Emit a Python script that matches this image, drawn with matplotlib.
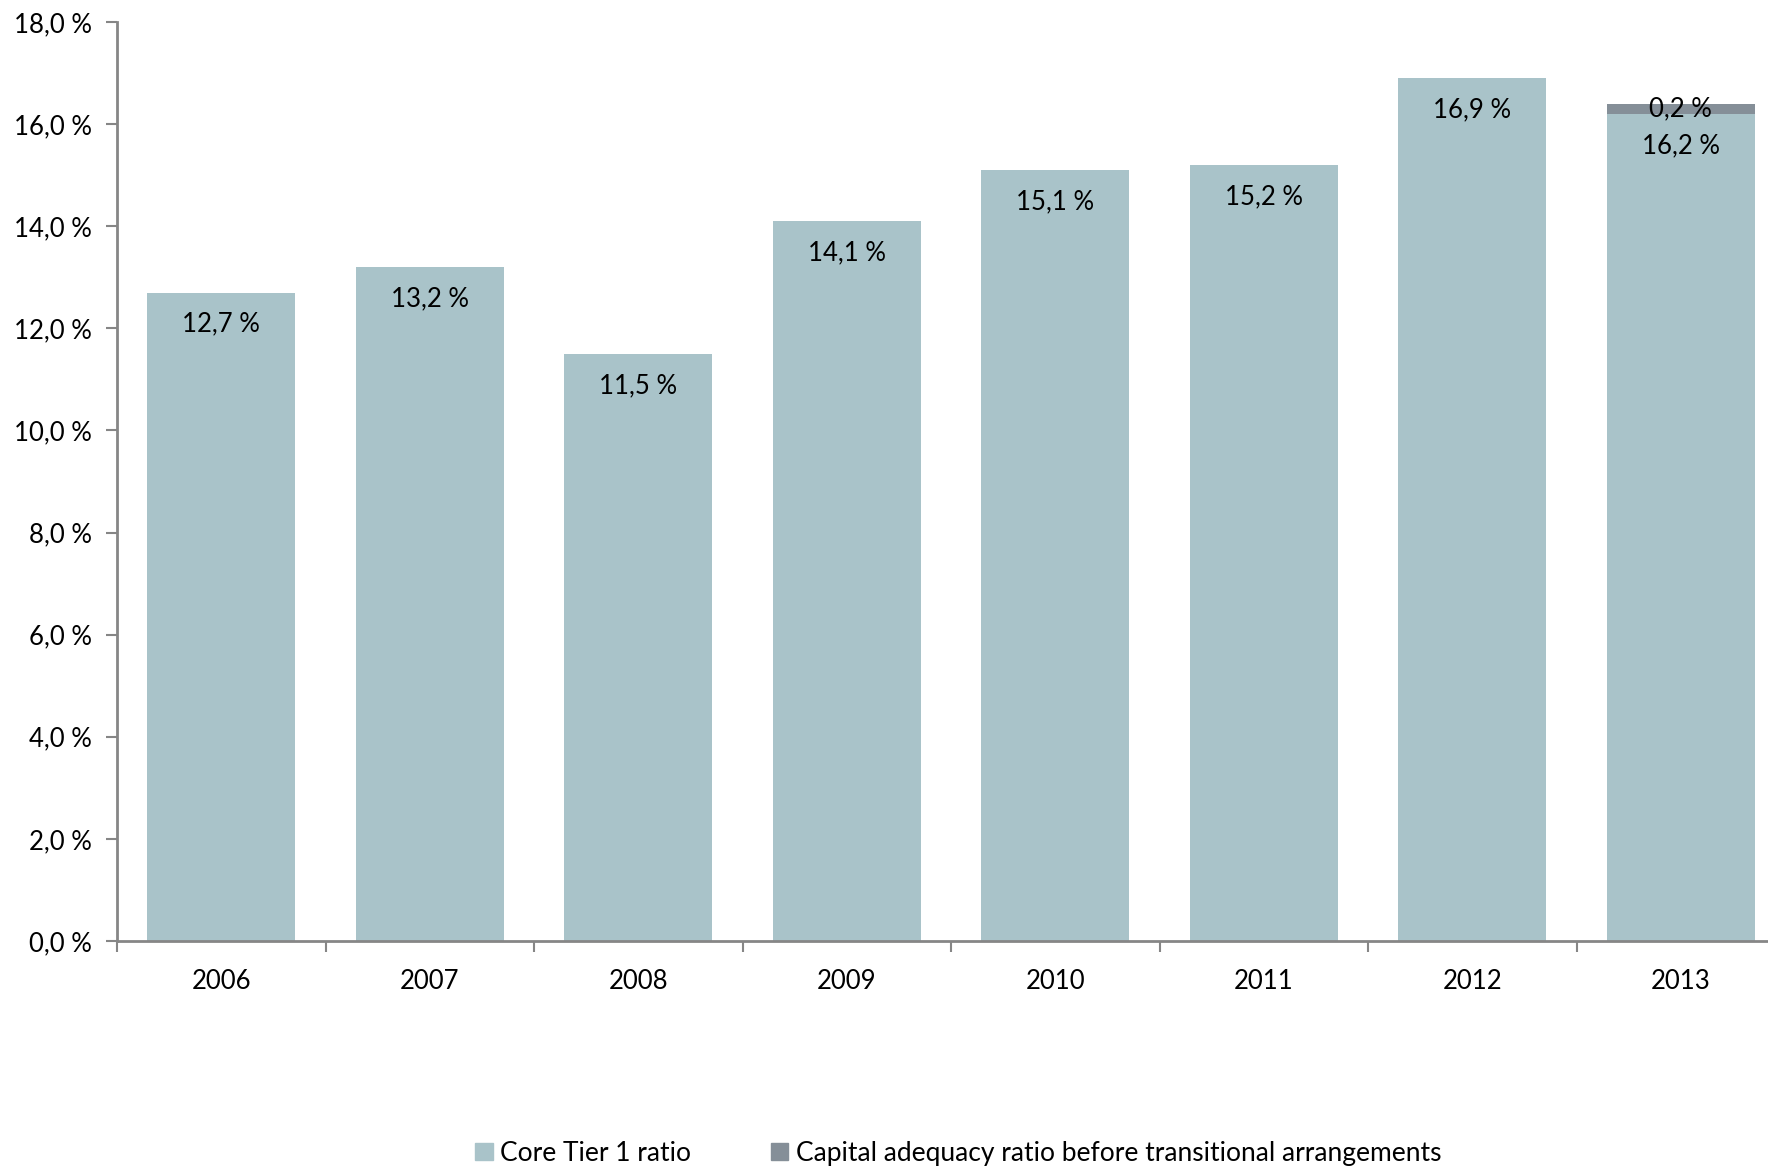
import matplotlib.pyplot as plt
from matplotlib.patches import Patch
import numpy as np

years = ["2006", "2007", "2008", "2009", "2010", "2011", "2012", "2013"]
core_tier1 = [12.7, 13.2, 11.5, 14.1, 15.1, 15.2, 16.9, 16.2]
capital_extra = [0, 0, 0, 0, 0, 0, 0, 0.2]

light = "#A9C3C9"
dark = "#858F98"
axis_col = "#868686"

plt.rcParams['font.family'] = ['Lato', 'DejaVu Sans']

fig = plt.figure(figsize=(17.68, 11.66), dpi=100)
# axes run a little past the right edge of the figure
ax = fig.add_axes([117 / 1768, 1 - 941 / 1166, 1668 / 1768, 919 / 1166])

x = np.arange(len(years))
w = 0.71
ax.bar(x, core_tier1, width=w, color=light, zorder=2)
ax.bar(x, capital_extra, width=w, bottom=core_tier1, color=dark, zorder=2)

for i, v in enumerate(core_tier1):
    ax.text(x[i], v - 0.62, f"{v:.1f} %".replace(".", ","), ha="center", va="center",
            fontsize=18.5, color="black", zorder=3)
for i, v in enumerate(capital_extra):
    if v > 0:
        ax.text(x[i], core_tier1[i] + v - 0.1, f"{v:.1f} %".replace(".", ","),
                ha="center", va="center", fontsize=18.5, color="black", zorder=3)

ax.set_xlim(-0.5, len(years) - 0.5)
ax.set_ylim(0, 18)
ax.set_yticks(np.arange(0, 18.1, 2))
ax.set_yticklabels([f"{t:.1f} %".replace(".", ",") for t in np.arange(0, 18.1, 2)])

ax.set_xticks(x)
ax.set_xticklabels(years)
ax.set_xticks(np.arange(-0.5, len(years), 1), minor=True)
ax.tick_params(axis="x", which="major", length=0, pad=20, labelsize=18.5)
ax.tick_params(axis="x", which="minor", length=8, width=1.5, color=axis_col, direction="out")
ax.tick_params(axis="y", length=8, width=1.5, color=axis_col, pad=10, labelsize=18.5)

for s in ["top", "right"]:
    ax.spines[s].set_visible(False)
for s in ["left", "bottom"]:
    ax.spines[s].set_color(axis_col)
    ax.spines[s].set_linewidth(2)

handles = [Patch(color=light, label="Core Tier 1 ratio"),
           Patch(color=dark, label="Capital adequacy ratio before transitional arrangements")]
fig.legend(handles=handles, loc="center", bbox_to_anchor=(0.542, 0.011), ncol=2,
           frameon=False, fontsize=19, handlelength=0.65, handleheight=0.65,
           handletextpad=0.3, columnspacing=3.0)

fig.savefig("out.png", dpi=100)
